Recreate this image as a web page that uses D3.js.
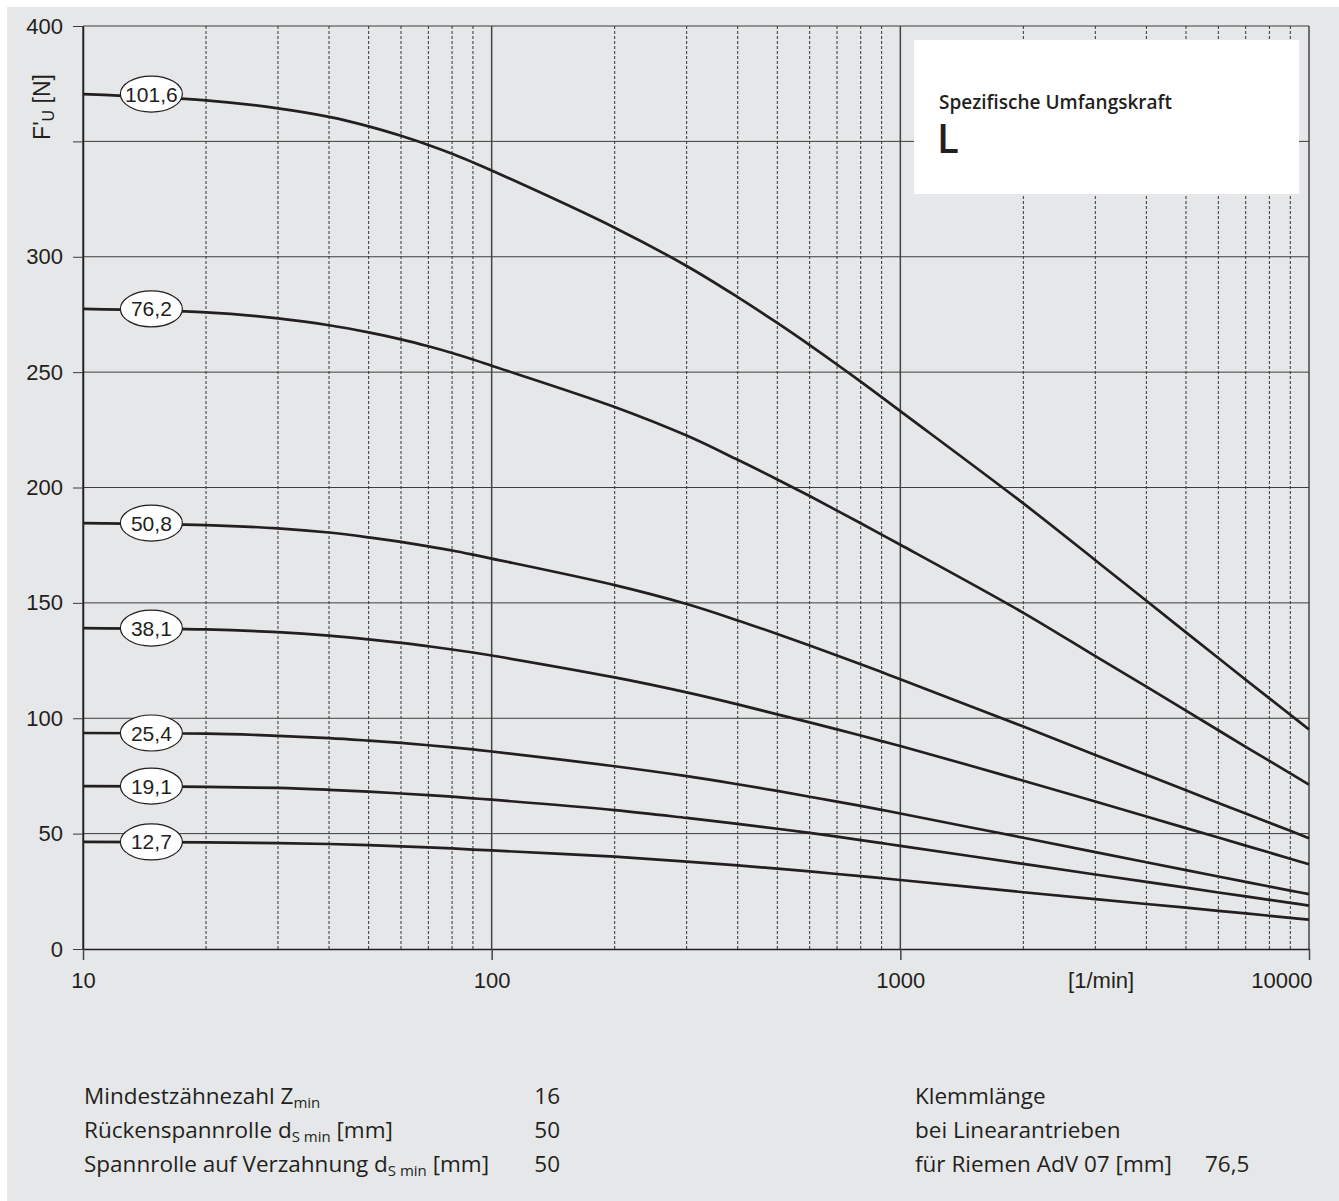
<!DOCTYPE html>
<html>
<head>
<meta charset="utf-8">
<script src="https://cdn.jsdelivr.net/npm/d3@7/dist/d3.min.js"></script>
<style>
  html, body { margin: 0; padding: 0; background: #fff; }
  svg { display: block; }
</style>
</head>
<body>
<svg id="chart" width="1339" height="1201"></svg>
<script>
// ---------- data ----------
const xValues = [10, 20, 30, 40, 50, 60, 70, 80, 90, 100, 200, 300, 400, 500, 600, 700, 800, 900, 1000, 2000, 3000, 4000, 5000, 6000, 7000, 8000, 9000, 10000];
const seriesNames = ["101,6", "76,2", "50,8", "38,1", "25,4", "19,1", "12,7"];
const s101_6 = [370.5, 367.8, 364.3, 360.6, 356.5, 352.4, 348.4, 344.6, 340.9, 337.4, 312.6, 296.0, 282.5, 271.3, 261.7, 253.3, 245.9, 239.2, 233.1, 193.1, 168.5, 150.9, 137.2, 126.1, 116.7, 108.6, 101.5, 95.1];
const s76_2  = [277.4, 275.9, 273.3, 270.3, 267.2, 264.2, 261.2, 258.3, 255.5, 252.8, 234.9, 222.5, 212.0, 203.5, 196.3, 190.0, 184.5, 179.6, 175.2, 145.7, 126.9, 113.7, 103.3, 94.8, 87.6, 81.5, 76.1, 71.2];
const s50_8  = [184.6, 183.7, 182.3, 180.5, 178.4, 176.4, 174.5, 172.7, 170.9, 169.2, 157.7, 149.5, 142.4, 136.5, 131.5, 127.2, 123.4, 120.0, 116.9, 96.4, 84.1, 75.5, 68.8, 63.3, 58.7, 54.7, 51.2, 48.0];
const s38_1  = [139.1, 138.5, 137.3, 135.8, 134.2, 132.7, 131.2, 129.8, 128.5, 127.2, 117.7, 111.2, 106.0, 101.7, 98.2, 95.2, 92.5, 90.1, 88.0, 72.9, 63.9, 57.4, 52.4, 48.3, 44.8, 41.8, 39.1, 36.7];
const s25_4  = [93.6, 93.3, 92.4, 91.4, 90.3, 89.3, 88.3, 87.4, 86.5, 85.6, 79.2, 74.9, 71.4, 68.5, 66.0, 63.9, 62.0, 60.3, 58.7, 48.2, 42.0, 37.6, 34.2, 31.4, 29.1, 27.1, 25.3, 23.8];
const s19_1  = [70.6, 70.3, 69.8, 69.0, 68.2, 67.4, 66.7, 66.0, 65.3, 64.7, 60.2, 56.8, 54.2, 52.1, 50.3, 48.7, 47.2, 45.9, 44.7, 36.9, 32.3, 29.1, 26.6, 24.5, 22.8, 21.3, 20.0, 18.8];
const s12_7  = [46.4, 46.25, 45.9, 45.5, 45.0, 44.5, 44.0, 43.6, 43.1, 42.7, 40.0, 37.9, 36.2, 34.8, 33.6, 32.5, 31.6, 30.7, 29.9, 24.6, 21.6, 19.5, 17.9, 16.5, 15.4, 14.4, 13.5, 12.7];
const seriesValues = [s101_6, s76_2, s50_8, s38_1, s25_4, s19_1, s12_7];
const labelX = 14.7;   // x position (1/min) of the ellipse labels
const yTicks = [0, 50, 100, 150, 200, 250, 300, 350, 400];
const yTickHidden = [350];   // label replaced by axis title
const xMajorTicks = [10, 100, 1000, 10000];
const xMinorTicks = [20,30,40,50,60,70,80,90,200,300,400,500,600,700,800,900,2000,3000,4000,5000,6000,7000,8000,9000];
const xUnitLabel = "[1/min]";
const titleLine1 = "Spezifische Umfangskraft";
const titleLine2 = "L";
const leftInfo = [
  {main: "Mindestzähnezahl Z", sub: "min", tail: "", value: "16"},
  {main: "Rückenspannrolle d", sub: "S min", tail: " [mm]", value: "50"},
  {main: "Spannrolle auf Verzahnung d", sub: "S min", tail: " [mm]", value: "50"}
];
const rightInfo = ["Klemmlänge", "bei Linearantrieben", "für Riemen AdV 07 [mm]"];
const rightValue = "76,5";

// ---------- drawing ----------
const svg = d3.select("#chart");
const ink = "#231f20";
const numFont = "'Liberation Sans', Arial, Helvetica, sans-serif";
const textFont = "'Open Sans', 'Noto Sans', sans-serif";

svg.append("rect").attr("x", 7).attr("y", 7).attr("width", 1332).attr("height", 1194).attr("fill", "#e6e7e8");

const x = d3.scaleLog().domain([10, 10000]).range([83, 1309]);
const y = d3.scaleLinear().domain([0, 400]).range([949, 26]);

// horizontal grid
svg.append("g").selectAll("line").data(yTicks.filter(d => d > 0)).join("line")
  .attr("x1", x(10)).attr("x2", x(10000))
  .attr("y1", d => y(d)).attr("y2", d => y(d))
  .attr("stroke", "#3c3c3c").attr("stroke-width", 1);

// minor vertical dashed grid
svg.append("g").selectAll("line").data(xMinorTicks).join("line")
  .attr("x1", d => x(d)).attr("x2", d => x(d))
  .attr("y1", y(400)).attr("y2", y(0))
  .attr("stroke", "#333").attr("stroke-width", 1).attr("stroke-dasharray", "3,2");

// major vertical solid
svg.append("g").selectAll("line").data(xMajorTicks).join("line")
  .attr("x1", d => x(d)).attr("x2", d => x(d))
  .attr("y1", y(400)).attr("y2", y(0))
  .attr("stroke", "#444").attr("stroke-width", 1.5);

// axes
const yAxis = svg.append("g").attr("transform", `translate(${x(10)},0)`)
  .call(d3.axisLeft(y).tickValues(yTicks).tickSize(10).tickSizeOuter(0).tickPadding(10)
    .tickFormat(d => yTickHidden.includes(d) ? "" : d3.format("d")(d)));
yAxis.select(".domain").attr("stroke", ink).attr("stroke-width", 1.5);
yAxis.selectAll(".tick line").attr("stroke", "#3c3c3c");
yAxis.selectAll("text").attr("font-family", numFont).attr("font-size", 22).attr("fill", ink);

const xAxis = svg.append("g").attr("transform", `translate(0,${y(0)})`)
  .call(d3.axisBottom(x).tickValues(xMajorTicks).tickSize(11).tickSizeOuter(0).tickPadding(12).tickFormat(d3.format("d")));
xAxis.select(".domain").attr("stroke", ink).attr("stroke-width", 1.5);
xAxis.selectAll(".tick line").attr("stroke", "#444").attr("stroke-width", 1.5);
xAxis.selectAll("text").attr("font-family", numFont).attr("font-size", 22).attr("fill", ink);
xAxis.selectAll(".tick").filter(d => d === 10000).select("text").attr("text-anchor", "end").attr("x", 3);

svg.append("text").attr("x", x(3100)).attr("y", 988).attr("text-anchor", "middle")
  .attr("font-family", numFont).attr("font-size", 22).attr("fill", ink).text(xUnitLabel);

// y axis title
const yt = svg.append("text").attr("transform", "translate(50,107) rotate(-90)")
  .attr("text-anchor", "middle").attr("font-family", numFont).attr("font-size", 23).attr("fill", ink);
yt.append("tspan").text("F'");
yt.append("tspan").attr("font-size", 16).attr("dy", 4).text("U");
yt.append("tspan").attr("dy", -4).text(" [N]");

// curves
const line = d3.line().x(d => x(d[0])).y(d => y(d[1])).curve(d3.curveCatmullRom.alpha(0.5));
svg.append("g").selectAll("path").data(seriesValues).join("path")
  .attr("d", vals => line(xValues.map((xv, i) => [xv, vals[i]])))
  .attr("fill", "none").attr("stroke", ink).attr("stroke-width", 2.7);

// ellipse labels
const lab = svg.append("g").selectAll("g").data(seriesNames).join("g")
  .attr("transform", (d, i) => `translate(${x(labelX)},${y(seriesValues[i][0])})`);
lab.append("ellipse").attr("rx", 31).attr("ry", 18).attr("fill", "#fff").attr("stroke", ink).attr("stroke-width", 1.2);
lab.append("text").attr("text-anchor", "middle").attr("dy", "0.36em")
  .attr("font-family", numFont).attr("font-size", 21).attr("fill", ink).text(d => d);

// title box
svg.append("rect").attr("x", 914).attr("y", 40).attr("width", 385).attr("height", 154).attr("fill", "#fff");
svg.append("text").attr("x", 939).attr("y", 109).attr("font-family", textFont).attr("font-weight", 600)
  .attr("font-size", 19).attr("fill", ink).text(titleLine1);
svg.append("text").attr("x", 937).attr("y", 153).attr("font-family", textFont).attr("font-weight", 600)
  .attr("font-size", 40).attr("fill", ink).text(titleLine2);

// info text bottom
const rowsY = [1104, 1138, 1172];
leftInfo.forEach((r, i) => {
  const t = svg.append("text").attr("x", 84).attr("y", rowsY[i]).attr("font-family", textFont)
    .attr("font-size", 22.5).attr("fill", ink);
  t.append("tspan").text(r.main);
  t.append("tspan").attr("font-size", 15).attr("dy", 4).text(r.sub);
  if (r.tail) t.append("tspan").attr("dy", -4).text(r.tail);
  svg.append("text").attr("x", 560).attr("y", rowsY[i]).attr("text-anchor", "end").attr("font-family", textFont)
    .attr("font-size", 22.5).attr("fill", ink).text(r.value);
});
rightInfo.forEach((s, i) => {
  svg.append("text").attr("x", 915).attr("y", rowsY[i]).attr("font-family", textFont)
    .attr("font-size", 22.5).attr("fill", ink).text(s);
});
svg.append("text").attr("x", 1205).attr("y", rowsY[2]).attr("font-family", textFont)
  .attr("font-size", 22.5).attr("fill", ink).text(rightValue);
</script>
</body>
</html>
